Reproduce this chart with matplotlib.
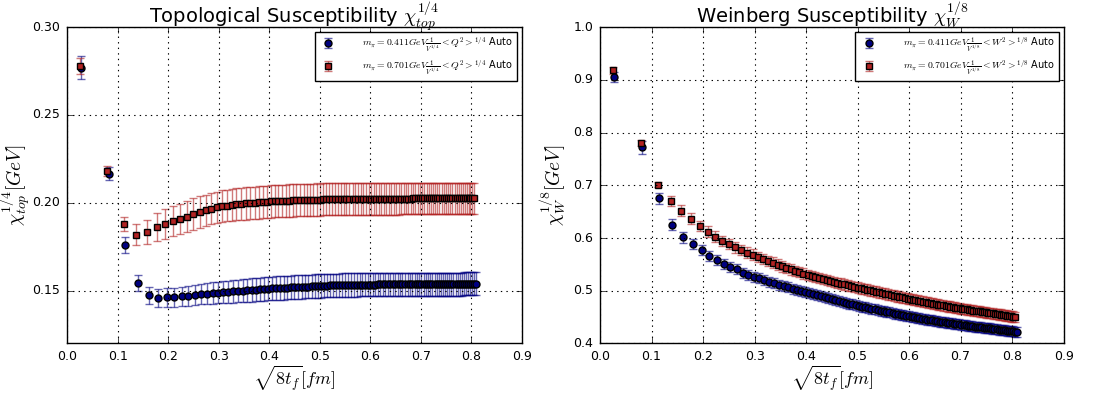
import matplotlib
matplotlib.use("Agg")
import matplotlib.pyplot as plt

plt.style.use("classic")
plt.rcParams["mathtext.fontset"] = "cm"
plt.rcParams["font.family"] = "DejaVu Sans"

# flow time axis sqrt(8 t_f) [fm]
sqrt8t = [
    0.025, 0.079, 0.112, 0.137, 0.158, 0.177, 0.194, 0.209, 0.224, 0.237,
    0.250, 0.262, 0.274, 0.285, 0.296, 0.306, 0.316, 0.326, 0.335, 0.345,
    0.354, 0.362, 0.371, 0.379, 0.387, 0.395, 0.403, 0.411, 0.418, 0.426,
    0.433, 0.440, 0.447, 0.454, 0.461, 0.468, 0.474, 0.481, 0.487, 0.494,
    0.500, 0.506, 0.512, 0.518, 0.524, 0.530, 0.536, 0.542, 0.548, 0.553,
    0.559, 0.565, 0.570, 0.576, 0.581, 0.586, 0.592, 0.597, 0.602, 0.607,
    0.612, 0.617, 0.622, 0.627, 0.632, 0.637, 0.642, 0.647, 0.652, 0.657,
    0.661, 0.666, 0.671, 0.675, 0.680, 0.685, 0.689, 0.694, 0.698, 0.703,
    0.707, 0.712, 0.716, 0.720, 0.725, 0.729, 0.733, 0.737, 0.742, 0.746,
    0.750, 0.754, 0.758, 0.762, 0.767, 0.771, 0.775, 0.779, 0.783, 0.787,
    0.791, 0.795, 0.798, 0.802, 0.806,
]

# topological susceptibility, m_pi = 0.411 GeV
top_411 = [
    0.2769, 0.2166, 0.1758, 0.1545, 0.1474, 0.1460, 0.1462, 0.1464, 0.1468, 0.1470,
    0.1476, 0.1481, 0.1484, 0.1487, 0.1490, 0.1492, 0.1494, 0.1496, 0.1498, 0.1500,
    0.1502, 0.1504, 0.1506, 0.1508, 0.1510, 0.1512, 0.1514, 0.1515, 0.1516, 0.1517,
    0.1518, 0.1519, 0.1520, 0.1521, 0.1522, 0.1523, 0.1524, 0.1525, 0.1526, 0.1527,
    0.1528, 0.1529, 0.1529, 0.1530, 0.1530, 0.1531, 0.1531, 0.1532, 0.1532, 0.1532,
    0.1533, 0.1533, 0.1533, 0.1534, 0.1534, 0.1534, 0.1535, 0.1535, 0.1535, 0.1535,
    0.1536, 0.1536, 0.1536, 0.1536, 0.1536, 0.1536, 0.1536, 0.1536, 0.1536, 0.1536,
    0.1536, 0.1536, 0.1536, 0.1536, 0.1536, 0.1537, 0.1537, 0.1537, 0.1537, 0.1537,
    0.1537, 0.1537, 0.1537, 0.1537, 0.1537, 0.1537, 0.1537, 0.1537, 0.1538, 0.1538,
    0.1538, 0.1538, 0.1538, 0.1538, 0.1538, 0.1538, 0.1538, 0.1538, 0.1539, 0.1539,
    0.1539, 0.1539, 0.1539, 0.1539, 0.1539,
]
top_411_err = [
    0.0067, 0.0038, 0.0045, 0.0045, 0.0047, 0.0052, 0.0056, 0.0054, 0.0055, 0.0056,
    0.0057, 0.0058, 0.0059, 0.0060, 0.0060, 0.0061, 0.0062, 0.0063, 0.0064, 0.0065,
    0.0066, 0.0066, 0.0066, 0.0066, 0.0067, 0.0067, 0.0067, 0.0067, 0.0067, 0.0067,
    0.0067, 0.0067, 0.0067, 0.0067, 0.0067, 0.0067, 0.0067, 0.0067, 0.0067, 0.0067,
    0.0067, 0.0067, 0.0067, 0.0067, 0.0067, 0.0067, 0.0067, 0.0067, 0.0067, 0.0067,
    0.0066, 0.0066, 0.0066, 0.0066, 0.0066, 0.0066, 0.0066, 0.0066, 0.0066, 0.0066,
    0.0066, 0.0066, 0.0066, 0.0066, 0.0066, 0.0066, 0.0066, 0.0066, 0.0066, 0.0066,
    0.0065, 0.0065, 0.0065, 0.0065, 0.0065, 0.0065, 0.0065, 0.0065, 0.0065, 0.0065,
    0.0065, 0.0065, 0.0065, 0.0065, 0.0065, 0.0065, 0.0065, 0.0065, 0.0065, 0.0065,
    0.0065, 0.0065, 0.0065, 0.0065, 0.0065, 0.0065, 0.0065, 0.0065, 0.0065, 0.0065,
    0.0065, 0.0065, 0.0065, 0.0065, 0.0065,
]

# topological susceptibility, m_pi = 0.701 GeV
top_701 = [
    0.2780, 0.2180, 0.1880, 0.1820, 0.1834, 0.1861, 0.1881, 0.1896, 0.1908, 0.1921,
    0.1936, 0.1948, 0.1957, 0.1967, 0.1974, 0.1980, 0.1985, 0.1989, 0.1992, 0.1995,
    0.1997, 0.1999, 0.2001, 0.2003, 0.2005, 0.2006, 0.2008, 0.2009, 0.2010, 0.2011,
    0.2012, 0.2013, 0.2014, 0.2015, 0.2016, 0.2017, 0.2017, 0.2018, 0.2018, 0.2019,
    0.2019, 0.2020, 0.2020, 0.2020, 0.2021, 0.2021, 0.2021, 0.2022, 0.2022, 0.2022,
    0.2022, 0.2023, 0.2023, 0.2023, 0.2023, 0.2024, 0.2024, 0.2024, 0.2024, 0.2024,
    0.2024, 0.2024, 0.2024, 0.2024, 0.2024, 0.2024, 0.2024, 0.2024, 0.2024, 0.2024,
    0.2024, 0.2024, 0.2024, 0.2024, 0.2024, 0.2025, 0.2025, 0.2025, 0.2025, 0.2025,
    0.2025, 0.2025, 0.2025, 0.2025, 0.2025, 0.2025, 0.2025, 0.2025, 0.2025, 0.2025,
    0.2025, 0.2025, 0.2025, 0.2025, 0.2025, 0.2025, 0.2025, 0.2025, 0.2025, 0.2025,
    0.2025, 0.2025, 0.2025, 0.2025, 0.2025,
]
top_701_err = [
    0.0045, 0.0030, 0.0040, 0.0057, 0.0070, 0.0080, 0.0085, 0.0087, 0.0087, 0.0088,
    0.0089, 0.0089, 0.0090, 0.0090, 0.0090, 0.0091, 0.0091, 0.0091, 0.0092, 0.0092,
    0.0092, 0.0092, 0.0092, 0.0092, 0.0092, 0.0092, 0.0092, 0.0092, 0.0092, 0.0092,
    0.0092, 0.0092, 0.0092, 0.0092, 0.0092, 0.0092, 0.0092, 0.0092, 0.0092, 0.0092,
    0.0091, 0.0091, 0.0091, 0.0091, 0.0091, 0.0091, 0.0091, 0.0091, 0.0091, 0.0091,
    0.0091, 0.0091, 0.0091, 0.0091, 0.0091, 0.0091, 0.0091, 0.0091, 0.0091, 0.0091,
    0.0091, 0.0091, 0.0091, 0.0091, 0.0091, 0.0091, 0.0091, 0.0091, 0.0091, 0.0091,
    0.0090, 0.0090, 0.0090, 0.0090, 0.0090, 0.0090, 0.0090, 0.0090, 0.0090, 0.0090,
    0.0090, 0.0090, 0.0090, 0.0090, 0.0090, 0.0090, 0.0090, 0.0090, 0.0090, 0.0090,
    0.0090, 0.0090, 0.0090, 0.0090, 0.0090, 0.0090, 0.0090, 0.0090, 0.0090, 0.0090,
    0.0090, 0.0090, 0.0090, 0.0090, 0.0090,
]

# Weinberg susceptibility, m_pi = 0.411 GeV
wein_411 = [
    0.9050, 0.7720, 0.6750, 0.6252, 0.6010, 0.5879, 0.5765, 0.5665, 0.5583, 0.5513,
    0.5456, 0.5412, 0.5345, 0.5305, 0.5270, 0.5236, 0.5203, 0.5171, 0.5143, 0.5113,
    0.5087, 0.5064, 0.5039, 0.5017, 0.4995, 0.4974, 0.4953, 0.4932, 0.4913, 0.4893,
    0.4875, 0.4857, 0.4840, 0.4822, 0.4805, 0.4788, 0.4774, 0.4757, 0.4743, 0.4727,
    0.4713, 0.4700, 0.4687, 0.4674, 0.4661, 0.4649, 0.4636, 0.4624, 0.4612, 0.4602,
    0.4590, 0.4578, 0.4568, 0.4556, 0.4546, 0.4536, 0.4525, 0.4515, 0.4505, 0.4496,
    0.4486, 0.4478, 0.4470, 0.4462, 0.4454, 0.4446, 0.4438, 0.4430, 0.4423, 0.4415,
    0.4409, 0.4402, 0.4394, 0.4388, 0.4381, 0.4374, 0.4368, 0.4361, 0.4355, 0.4348,
    0.4343, 0.4337, 0.4332, 0.4327, 0.4321, 0.4316, 0.4311, 0.4306, 0.4300, 0.4295,
    0.4290, 0.4285, 0.4280, 0.4275, 0.4269, 0.4264, 0.4259, 0.4254, 0.4249, 0.4244,
    0.4239, 0.4234, 0.4230, 0.4225, 0.4220,
]
wein_411_err = [
    0.0090, 0.0120, 0.0104, 0.0100, 0.0095, 0.0095, 0.0095, 0.0095, 0.0095, 0.0095,
    0.0095, 0.0095, 0.0095, 0.0095, 0.0095, 0.0095, 0.0095, 0.0095, 0.0095, 0.0095,
    0.0095, 0.0095, 0.0095, 0.0095, 0.0095, 0.0095, 0.0095, 0.0095, 0.0095, 0.0095,
    0.0095, 0.0095, 0.0095, 0.0095, 0.0095, 0.0095, 0.0095, 0.0095, 0.0095, 0.0095,
    0.0095, 0.0095, 0.0095, 0.0095, 0.0095, 0.0095, 0.0095, 0.0095, 0.0095, 0.0095,
    0.0095, 0.0095, 0.0095, 0.0095, 0.0095, 0.0095, 0.0095, 0.0095, 0.0095, 0.0095,
    0.0095, 0.0095, 0.0095, 0.0095, 0.0095, 0.0095, 0.0095, 0.0095, 0.0095, 0.0095,
    0.0095, 0.0095, 0.0095, 0.0095, 0.0095, 0.0095, 0.0095, 0.0095, 0.0095, 0.0095,
    0.0095, 0.0095, 0.0095, 0.0095, 0.0095, 0.0095, 0.0095, 0.0095, 0.0095, 0.0095,
    0.0095, 0.0095, 0.0095, 0.0095, 0.0095, 0.0095, 0.0095, 0.0095, 0.0095, 0.0095,
    0.0095, 0.0095, 0.0095, 0.0095, 0.0095,
]

# Weinberg susceptibility, m_pi = 0.701 GeV
wein_701 = [
    0.9177, 0.7800, 0.7010, 0.6700, 0.6518, 0.6366, 0.6227, 0.6120, 0.6025, 0.5943,
    0.5886, 0.5822, 0.5773, 0.5725, 0.5683, 0.5643, 0.5603, 0.5565, 0.5531, 0.5494,
    0.5462, 0.5434, 0.5404, 0.5378, 0.5352, 0.5327, 0.5303, 0.5282, 0.5263, 0.5241,
    0.5222, 0.5204, 0.5186, 0.5168, 0.5151, 0.5134, 0.5120, 0.5104, 0.5090, 0.5074,
    0.5060, 0.5047, 0.5034, 0.5021, 0.5008, 0.4995, 0.4982, 0.4969, 0.4956, 0.4945,
    0.4932, 0.4920, 0.4909, 0.4896, 0.4886, 0.4875, 0.4863, 0.4853, 0.4842, 0.4832,
    0.4822, 0.4812, 0.4803, 0.4793, 0.4784, 0.4774, 0.4765, 0.4756, 0.4747, 0.4738,
    0.4731, 0.4722, 0.4713, 0.4706, 0.4697, 0.4689, 0.4682, 0.4673, 0.4667, 0.4658,
    0.4652, 0.4645, 0.4639, 0.4633, 0.4625, 0.4619, 0.4613, 0.4607, 0.4600, 0.4594,
    0.4588, 0.4582, 0.4576, 0.4570, 0.4563, 0.4557, 0.4551, 0.4545, 0.4539, 0.4533,
    0.4527, 0.4521, 0.4517, 0.4511, 0.4505,
]
wein_701_err = [
    0.0070, 0.0050, 0.0050, 0.0100, 0.0107, 0.0100, 0.0100, 0.0100, 0.0100, 0.0100,
    0.0100, 0.0100, 0.0100, 0.0100, 0.0100, 0.0100, 0.0100, 0.0100, 0.0100, 0.0100,
    0.0100, 0.0100, 0.0100, 0.0100, 0.0100, 0.0100, 0.0100, 0.0100, 0.0100, 0.0100,
    0.0100, 0.0100, 0.0100, 0.0100, 0.0100, 0.0100, 0.0100, 0.0100, 0.0100, 0.0100,
    0.0100, 0.0100, 0.0100, 0.0100, 0.0100, 0.0100, 0.0100, 0.0100, 0.0100, 0.0100,
    0.0100, 0.0100, 0.0100, 0.0100, 0.0100, 0.0100, 0.0100, 0.0100, 0.0100, 0.0100,
    0.0100, 0.0100, 0.0100, 0.0100, 0.0100, 0.0100, 0.0100, 0.0100, 0.0100, 0.0100,
    0.0100, 0.0100, 0.0100, 0.0100, 0.0100, 0.0100, 0.0100, 0.0100, 0.0100, 0.0100,
    0.0100, 0.0100, 0.0100, 0.0100, 0.0100, 0.0100, 0.0100, 0.0100, 0.0100, 0.0100,
    0.0100, 0.0100, 0.0100, 0.0100, 0.0100, 0.0100, 0.0100, 0.0100, 0.0100, 0.0100,
    0.0100, 0.0100, 0.0100, 0.0100, 0.0100,
]

label_top_411 = r"$m_\pi=0.411GeV\frac{1}{V^{1/4}}<Q^2>^{1/4}$ Auto"
label_top_701 = r"$m_\pi=0.701GeV\frac{1}{V^{1/4}}<Q^2>^{1/4}$ Auto"
label_wein_411 = r"$m_\pi=0.411GeV\frac{1}{V^{1/8}}<W^2>^{1/8}$ Auto"
label_wein_701 = r"$m_\pi=0.701GeV\frac{1}{V^{1/8}}<W^2>^{1/8}$ Auto"

BLUE = "#000080"
RED = "#b22222"
BLUE_SHIFT = 0.003


def draw_series(ax, x, y, err, color, marker, label):
    eb = ax.errorbar(x, y, yerr=err, fmt=marker, color=color, ecolor=color,
                     mec="black", mew=1.0, ms=5, capsize=3, elinewidth=1,
                     label=label)
    for c in eb[1]:
        c.set_alpha(0.6)
    for b in eb[2]:
        b.set_alpha(0.6)


def style_axes(ax):
    ax.grid(True, linestyle=":", color="black", linewidth=0.8)
    ax.set_xlim(0, 0.9)
    ax.set_xticks([0.0, 0.1, 0.2, 0.3, 0.4, 0.5, 0.6, 0.7, 0.8, 0.9])
    ax.tick_params(labelsize=9, pad=5)
    ax.set_xlabel(r"$\sqrt{8t_f}[fm]$", fontsize=13, labelpad=0)
    ax.legend(loc="upper right", fontsize=7, numpoints=1, fancybox=False,
              handletextpad=2.5, borderaxespad=0.5)


fig = plt.figure(figsize=(10.95, 3.96), dpi=100, facecolor="white")

ax1 = fig.add_axes([0.0614, 0.1326, 0.415, 0.799])
draw_series(ax1, [v + BLUE_SHIFT for v in sqrt8t], top_411, top_411_err, BLUE, "o", label_top_411)
draw_series(ax1, sqrt8t, top_701, top_701_err, RED, "s", label_top_701)
ax1.set_ylim(0.12, 0.30)
ax1.set_yticks([0.15, 0.20, 0.25, 0.30])
ax1.set_yticklabels(["0.15", "0.20", "0.25", "0.30"])
ax1.set_ylabel(r"$\chi_{top}^{1/4}[GeV]$", fontsize=14, labelpad=0)
ax1.set_title(r"Topological Susceptibility $\chi_{top}^{1/4}$", fontsize=14, pad=3)
style_axes(ax1)

ax2 = fig.add_axes([0.548, 0.1326, 0.4233, 0.799])
draw_series(ax2, [v + BLUE_SHIFT for v in sqrt8t], wein_411, wein_411_err, BLUE, "o", label_wein_411)
draw_series(ax2, sqrt8t, wein_701, wein_701_err, RED, "s", label_wein_701)
ax2.set_ylim(0.4, 1.0)
ax2.set_yticks([0.4, 0.5, 0.6, 0.7, 0.8, 0.9, 1.0])
ax2.set_ylabel(r"$\chi_{W}^{1/8}[GeV]$", fontsize=14, labelpad=4)
ax2.set_title(r"Weinberg Susceptibility $\chi_{W}^{1/8}$", fontsize=14, pad=3)
style_axes(ax2)

fig.savefig("out.png", dpi=100, facecolor="white")
